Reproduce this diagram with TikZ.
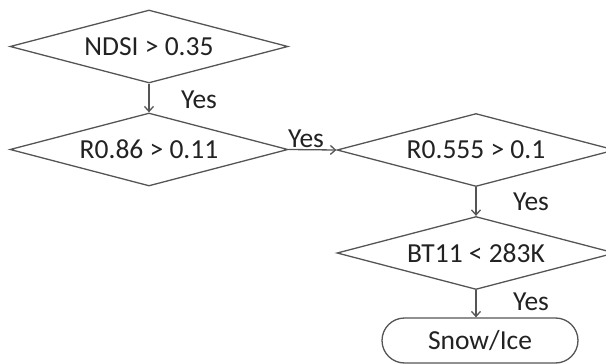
\documentclass[tikz,border=0pt]{standalone}
\usepackage{fontspec}
\setmainfont{Carlito}
\usepackage{tikz}
\usetikzlibrary{shapes.geometric,shapes.misc,arrows.meta}

\definecolor{linegray}{HTML}{555555}
\definecolor{textgray}{HTML}{222222}

\begin{document}
\begin{tikzpicture}[x=1pt,y=1pt]
	\tikzset{every node/.style={inner sep=0pt, text=textgray, font=\fontsize{27.5}{32}\selectfont},
		test/.style={diamond, aspect=3.8, draw=linegray, line width=1.3pt, minimum width=278, minimum height=73},
		term/.style={rounded rectangle, draw=linegray, line width=1.3pt, minimum width=196, minimum height=45},
		flow/.style={draw=linegray, line width=1.3pt, -{Straight Barb[length=5pt,width=9pt]}}}
	\useasboundingbox (0,0) rectangle (606,-364);
	\node [test] (ndsi) at (149,-46.5) {NDSI > 0.35};
	\node [test] (rnir) at (149,-149.5) {R0.86 > 0.11};
	\node [test] (rvis) at (476,-150) {R0.555 > 0.1};
	\node [test] (bt) at (476,-253) {BT11 < 283K};
	\node [term] (snow) at (480,-340.5) {Snow/Ice};
	\draw [flow] (ndsi.south) -- (rnir.north);
	\node (yes1) at (199,-100) {Yes};
	\draw [flow] (rnir.east) -- (rvis.west);
	\node (yes2) at (306,-139) {Yes};
	\draw [flow] (rvis.south) -- (bt.north);
	\node (yes3) at (531,-202) {Yes};
	\draw [flow] (bt.south) -- (bt.south |- snow.north);
	\node (yes4) at (531,-302) {Yes};
\end{tikzpicture}
\end{document}
